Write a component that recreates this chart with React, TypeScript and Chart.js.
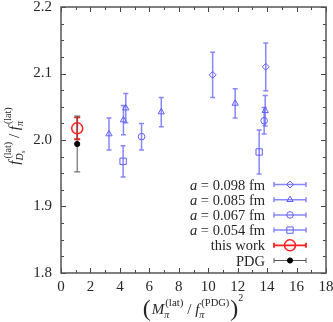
import React, { useEffect, useRef } from 'react';
import { Chart, registerables } from 'chart.js';

Chart.register(...registerables);

// ---- data ----
const seriesLabels = ['= 0.098 fm', '= 0.085 fm', '= 0.067 fm', '= 0.054 fm', 'this work', 'PDG'];
const xTickValues = [0, 2, 4, 6, 8, 10, 12, 14, 16, 18];
const yTickValues = [1.8, 1.9, 2.0, 2.1, 2.2];

const x098 = [10.3, 13.91];
const y098 = [2.098, 2.11];
const e098 = [0.034, 0.036];

const x085 = [3.26, 4.24, 4.4, 6.81, 11.83, 13.87];
const y085 = [2.009, 2.03, 2.048, 2.042, 2.055, 2.044];
const e085 = [0.024, 0.022, 0.022, 0.022, 0.022, 0.023];

const x067 = [5.47, 13.8];
const y067 = [2.005, 2.029];
const e067 = [0.02, 0.02];

const x054 = [4.22, 13.46];
const y054 = [1.968, 1.982];
const e054 = [0.0235, 0.033];

const xThis = [1.1];
const yThis = [2.0176];
const eThis = [0.0165];

const xPDG = [1.1];
const yPDG = [1.994];
const ePDG = [0.042];

const allX = [x098, x085, x067, x054, xThis, xPDG];
const allY = [y098, y085, y067, y054, yThis, yPDG];
const allE = [e098, e085, e067, e054, eThis, ePDG];

// ---- styles ----
const BLUE = 'rgb(95,95,255)';
const BLUE_BAR = 'rgba(95,95,255,0.75)';
const RED = 'rgb(255,30,30)';
const FONT = '"Liberation Serif", "Times New Roman", serif';
const TEXT = '#262626';

type Sty = { marker: string; r: number; border: string; fill: string; bw: number; bar: string; barW: number; cap: number };
const styles: Sty[] = [
  { marker: 'rectRot', r: 3.5, border: BLUE, fill: 'rgba(0,0,0,0)', bw: 1, bar: BLUE_BAR, barW: 1.5, cap: 2.5 },
  { marker: 'triangle', r: 3.6, border: BLUE, fill: 'rgba(0,0,0,0)', bw: 1, bar: BLUE_BAR, barW: 1.5, cap: 2.5 },
  { marker: 'circle', r: 3.3, border: BLUE, fill: 'rgba(0,0,0,0)', bw: 1, bar: BLUE_BAR, barW: 1.5, cap: 2.5 },
  { marker: 'rect', r: 4.5, border: BLUE, fill: 'rgba(0,0,0,0)', bw: 1, bar: BLUE_BAR, barW: 1.5, cap: 2.5 },
  { marker: 'circle', r: 5.5, border: RED, fill: 'rgba(0,0,0,0)', bw: 1.5, bar: RED, barW: 1.8, cap: 3 },
  { marker: 'circle', r: 2.6, border: '#000', fill: '#000', bw: 1, bar: '#555', barW: 1, cap: 3 },
];

// ---- rich text helpers ----
type Run = { t: string; size: number; italic?: boolean; dy?: number; dx?: number };
type Stack = { sup: Run[]; sub: Run[]; dx?: number };
type Item = Run | Stack;

const fontOf = (r: Run) => `${r.italic ? 'italic ' : ''}${r.size}px ${FONT}`;
function runsWidth(ctx: CanvasRenderingContext2D, runs: Run[]) {
  let w = 0;
  for (const r of runs) {
    ctx.font = fontOf(r);
    w += ctx.measureText(r.t).width + (r.dx || 0);
  }
  return w;
}
function drawRuns(ctx: CanvasRenderingContext2D, runs: Run[], x: number, y: number) {
  for (const r of runs) {
    ctx.font = fontOf(r);
    x += r.dx || 0;
    ctx.fillText(r.t, x, y + (r.dy || 0));
    x += ctx.measureText(r.t).width;
  }
  return x;
}
function itemsWidth(ctx: CanvasRenderingContext2D, items: Item[]) {
  let w = 0;
  for (const it of items) {
    if ('sup' in it) w += Math.max(runsWidth(ctx, it.sup), runsWidth(ctx, it.sub)) + (it.dx || 0);
    else w += runsWidth(ctx, [it]);
  }
  return w;
}
function drawItems(ctx: CanvasRenderingContext2D, items: Item[], x: number, y: number) {
  for (const it of items) {
    if ('sup' in it) {
      const x0 = x + (it.dx || 0);
      const a = drawRuns(ctx, it.sup, x0, y);
      const b = drawRuns(ctx, it.sub, x0, y);
      x = Math.max(a, b);
    } else {
      x = drawRuns(ctx, [it], x, y);
    }
  }
  return x;
}

const yTitle: Item[] = [
  { t: 'f', size: 15, italic: true },
  { sup: [{ t: '(lat)', size: 10, dy: -8, dx: 2 }], sub: [{ t: 'D', size: 10, italic: true, dy: 4 }, { t: 's', size: 7, italic: true, dy: 6 }] },
  { t: ' / ', size: 15 },
  { t: 'f', size: 15, italic: true },
  { sup: [{ t: '(lat)', size: 10, dy: -8, dx: 2 }], sub: [{ t: 'π', size: 10, italic: true, dy: 4 }] },
];
const xTitle: Item[] = [
  { t: '(', size: 24, dy: 2 },
  { t: 'M', size: 15, italic: true, dx: 1 },
  { sup: [{ t: '(lat)', size: 11, dy: -8, dx: 1 }], sub: [{ t: 'π', size: 10, italic: true, dy: 4 }] },
  { t: ' / ', size: 15 },
  { t: 'f', size: 15, italic: true },
  { sup: [{ t: '(PDG)', size: 10.5, dy: -8, dx: 2 }], sub: [{ t: 'π', size: 10, italic: true, dy: 4 }] },
  { t: ')', size: 24, dy: 2, dx: 1 },
  { t: '2', size: 10, dy: -13 },
];

function drawMarker(ctx: CanvasRenderingContext2D, s: Sty, x: number, y: number) {
  ctx.save();
  ctx.strokeStyle = s.border;
  ctx.fillStyle = s.fill;
  ctx.lineWidth = s.bw;
  ctx.beginPath();
  const r = s.r;
  if (s.marker === 'circle') ctx.arc(x, y, r, 0, Math.PI * 2);
  else if (s.marker === 'rect') { const h = r * Math.SQRT1_2; ctx.rect(x - h, y - h, 2 * h, 2 * h); }
  else if (s.marker === 'rectRot') { ctx.moveTo(x, y - r); ctx.lineTo(x + r, y); ctx.lineTo(x, y + r); ctx.lineTo(x - r, y); ctx.closePath(); }
  else if (s.marker === 'triangle') {
    const a = (3 * r) / Math.sqrt(3);
    const h = (a * Math.sqrt(3)) / 2;
    ctx.moveTo(x - a / 2, y + h / 3); ctx.lineTo(x + a / 2, y + h / 3); ctx.lineTo(x, y - (2 * h) / 3); ctx.closePath();
  }
  ctx.fill();
  ctx.stroke();
  ctx.restore();
}

const framePlugin = {
  id: 'frame',
  beforeDatasetsDraw(chart: any) {
    const { ctx, chartArea: ca, scales } = chart;
    const xs = scales.x, ys = scales.y;
    ctx.save();
    ctx.strokeStyle = '#444';
    ctx.lineWidth = 1;
    for (let k = 0; k <= 18; k++) {
      const px = Math.round(xs.getPixelForValue(k)) + 0.5;
      const len = k % 2 === 0 ? 5 : 3;
      ctx.beginPath();
      ctx.moveTo(px, ca.bottom); ctx.lineTo(px, ca.bottom - len);
      ctx.moveTo(px, ca.top); ctx.lineTo(px, ca.top + len);
      ctx.stroke();
    }
    for (let k = 0; k <= 16; k++) {
      const py = Math.round(ys.getPixelForValue(1.8 + k * 0.025)) + 0.5;
      const len = k % 4 === 0 ? 5 : 3;
      ctx.beginPath();
      ctx.moveTo(ca.left, py); ctx.lineTo(ca.left + len, py);
      ctx.moveTo(ca.right, py); ctx.lineTo(ca.right - len, py);
      ctx.stroke();
    }
    ctx.strokeStyle = '#555';
    ctx.lineWidth = 1.5;
    ctx.strokeRect(ca.left, ca.top, ca.right - ca.left, ca.bottom - ca.top);
    ctx.restore();
  },
};

const errorBarPlugin = {
  id: 'errorBars',
  beforeDatasetsDraw(chart: any) {
    const { ctx, scales } = chart;
    const xs = scales.x, ys = scales.y;
    ctx.save();
    chart.data.datasets.forEach((ds: any, i: number) => {
      const s = styles[i];
      ctx.strokeStyle = s.bar;
      ctx.lineWidth = s.barW;
      ds.data.forEach((p: any, j: number) => {
        const e = allE[i][j];
        const px = xs.getPixelForValue(p.x);
        const t = ys.getPixelForValue(p.y + e);
        const b = ys.getPixelForValue(p.y - e);
        ctx.beginPath();
        ctx.moveTo(px, t); ctx.lineTo(px, b);
        ctx.moveTo(px - s.cap, t); ctx.lineTo(px + s.cap, t);
        ctx.moveTo(px - s.cap, b); ctx.lineTo(px + s.cap, b);
        ctx.stroke();
      });
    });
    ctx.restore();
  },
};

const annotPlugin = {
  id: 'annot',
  afterDraw(chart: any) {
    const { ctx, chartArea: ca } = chart;
    ctx.save();
    ctx.fillStyle = TEXT;
    ctx.textBaseline = 'alphabetic';
    ctx.textAlign = 'left';
    // legend
    const textRight = ca.right - 61;
    const l0 = ca.right - 52, l1 = ca.right - 20, lm = (l0 + l1) / 2;
    seriesLabels.forEach((lab, i) => {
      const yy = ca.bottom - 88.5 + i * 15.2;
      const runs: Run[] = i < 4 ? [{ t: 'a', size: 14.5, italic: true }, { t: ' ' + lab, size: 14.5 }] : [{ t: lab, size: 14.5 }];
      const w = runsWidth(ctx, runs);
      ctx.fillStyle = TEXT;
      drawRuns(ctx, runs, textRight - w, yy + 5);
      const s = styles[i];
      ctx.strokeStyle = s.bar;
      ctx.lineWidth = s.barW;
      ctx.beginPath();
      ctx.moveTo(l0, yy); ctx.lineTo(l1, yy);
      ctx.moveTo(l0, yy - 2.5); ctx.lineTo(l0, yy + 2.5);
      ctx.moveTo(l1, yy - 2.5); ctx.lineTo(l1, yy + 2.5);
      ctx.stroke();
      drawMarker(ctx, s, lm, yy);
    });
    // x title (centred on the reference's span)
    ctx.fillStyle = TEXT;
    const wx = itemsWidth(ctx, xTitle);
    drawItems(ctx, xTitle, 193 - wx / 2, 314);
    // y title
    ctx.translate(19, 136);
    ctx.rotate(-Math.PI / 2);
    const wy = itemsWidth(ctx, yTitle);
    drawItems(ctx, yTitle, -wy / 2, 0);
    ctx.restore();
  },
};

export default function App() {
  const ref = useRef<HTMLCanvasElement | null>(null);
  useEffect(() => {
    document.body.style.margin = '0';
    const canvas = ref.current!;
    const datasets = allX.map((xs, i) => ({
      label: seriesLabels[i],
      data: xs.map((x, j) => ({ x, y: allY[i][j] })),
      pointStyle: styles[i].marker,
      pointRadius: styles[i].r,
      pointHoverRadius: styles[i].r,
      pointBorderColor: styles[i].border,
      pointBackgroundColor: styles[i].fill,
      pointBorderWidth: styles[i].bw,
      showLine: false,
    }));
    const chart = new Chart(canvas, {
      type: 'scatter',
      data: { datasets },
      plugins: [framePlugin, errorBarPlugin, annotPlugin],
      options: {
        animation: false,
        responsive: false,
        devicePixelRatio: 1,
        layout: { padding: { left: 0, top: 7, right: 4, bottom: 0 } },
        plugins: { legend: { display: false }, tooltip: { enabled: false } },
        scales: {
          x: {
            type: 'linear',
            min: 0,
            max: 18,
            afterBuildTicks: (s: any) => { s.ticks = xTickValues.map((v) => ({ value: v })); },
            ticks: { font: { family: FONT, size: 15 }, color: TEXT, padding: 5, maxRotation: 0, autoSkip: false, callback: (v: any) => String(v) },
            grid: { display: false, drawTicks: false },
            border: { display: false },
            afterFit: (s: any) => { s.height = 49; s.paddingLeft = 0; s.paddingRight = 0; s.paddingTop = 0; s.paddingBottom = 0; },
          },
          y: {
            type: 'linear',
            min: 1.8,
            max: 2.2,
            afterBuildTicks: (s: any) => { s.ticks = yTickValues.map((v) => ({ value: v })); },
            ticks: { font: { family: FONT, size: 15 }, color: TEXT, padding: 9, autoSkip: false, callback: (v: any) => Number(v).toFixed(1) },
            grid: { display: false, drawTicks: false },
            border: { display: false },
            afterFit: (s: any) => { s.width = 61; s.paddingLeft = 0; s.paddingRight = 0; s.paddingTop = 0; s.paddingBottom = 0; },
          },
        },
      },
    } as any);
    return () => chart.destroy();
  }, []);
  return (
    <div style={{ width: 333, height: 322 }}>
      <canvas ref={ref} width={333} height={322} style={{ display: 'block' }} />
    </div>
  );
}
